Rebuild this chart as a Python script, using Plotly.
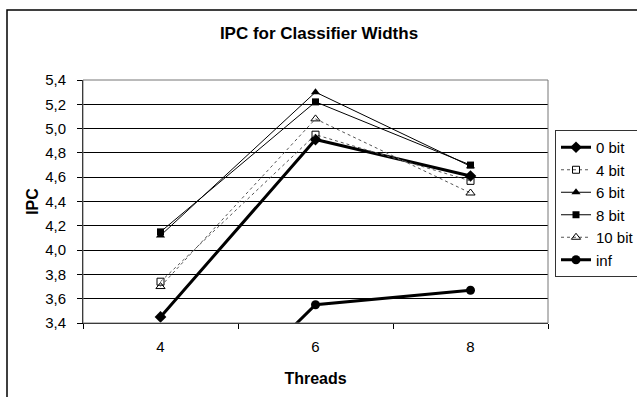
import plotly.graph_objects as go

threads = ["4", "6", "8"]
series_names = ["0 bit", "4 bit", "6 bit", "8 bit", "10 bit", "inf"]
ipc_0bit = [3.45, 4.91, 4.61]
ipc_4bit = [3.74, 4.95, 4.57]
ipc_6bit = [4.12, 5.30, 4.69]
ipc_8bit = [4.15, 5.22, 4.70]
ipc_10bit = [3.70, 5.08, 4.47]
ipc_inf = [2.30, 3.55, 3.67]
y_ticks = [3.4, 3.6, 3.8, 4.0, 4.2, 4.4, 4.6, 4.8, 5.0, 5.2, 5.4]

values = [ipc_0bit, ipc_4bit, ipc_6bit, ipc_8bit, ipc_10bit, ipc_inf]
styles = [
    dict(line=dict(color="black", width=3), marker=dict(symbol="diamond", size=9, color="black")),
    dict(line=dict(color="#555555", width=1, dash="dot"),
         marker=dict(symbol="square-open", size=7, color="black", line=dict(width=1, color="black"))),
    dict(line=dict(color="black", width=1), marker=dict(symbol="triangle-up", size=8, color="black")),
    dict(line=dict(color="black", width=1), marker=dict(symbol="square", size=7, color="black")),
    dict(line=dict(color="#555555", width=1, dash="dot"),
         marker=dict(symbol="triangle-up-open", size=8, color="black", line=dict(width=1, color="black"))),
    dict(line=dict(color="black", width=3), marker=dict(symbol="circle", size=9, color="black")),
]

fig = go.Figure()
for name, vals, st in zip(series_names, values, styles):
    fig.add_trace(go.Scatter(x=threads, y=vals, name=name, mode="lines+markers", **st))

W, H = 637, 397
L, R, T, B = 83, 548, 80, 323
pw, ph = R - L, B - T

def px(x):
    return (x - L) / pw

def py(y):
    return (B - y) / ph

fig.update_layout(
    width=W, height=H,
    margin=dict(l=L, r=W - R, t=T, b=H - B, autoexpand=False),
    paper_bgcolor="white", plot_bgcolor="white",
    separators=",.",
    font=dict(family="Liberation Sans, Arial, sans-serif", size=15, color="black"),
    title=dict(text="<b>IPC for Classifier Widths</b>", x=(213 + 425) / 2 / W, xref="container", xanchor="center",
               y=1 - 33 / H, yanchor="middle", font=dict(size=17)),
    showlegend=True,
    legend=dict(x=555 / W, y=1 - 130 / H, xref="container", yref="container",
                xanchor="left", yanchor="top",
                bordercolor="#333333", borderwidth=1, bgcolor="white",
                font=dict(size=15), itemwidth=30, tracegroupgap=0),
    xaxis=dict(type="category", title=dict(text="<b>Threads</b>", font=dict(size=16), standoff=18),
               showline=True, linecolor="black", linewidth=1, mirror=False,
               ticks="outside", tickson="boundaries", ticklen=5, tickcolor="black",
               ticklabelstandoff=10, tickfont=dict(size=15),
               showgrid=False, range=[-0.5, 2.5]),
    yaxis=dict(title=dict(text="<b>IPC</b>", font=dict(size=16), standoff=2),
               range=[3.4, 5.4], tickvals=y_ticks, tickformat=".1f",
               showline=True, linecolor="black", linewidth=1,
               ticks="outside", ticklen=5, tickcolor="black",
               ticklabelstandoff=8, tickfont=dict(size=15),
               showgrid=True, gridcolor="black", gridwidth=1, zeroline=False),
    shapes=[
        dict(type="rect", xref="paper", yref="paper", x0=0, x1=1, y0=0, y1=1,
             line=dict(color="#777777", width=1), layer="above"),
        dict(type="rect", xref="paper", yref="paper", x0=px(7), x1=px(660), y0=py(10), y1=py(410),
             line=dict(color="black", width=1.5), layer="below"),
    ],
)

fig.write_html("out.html")
